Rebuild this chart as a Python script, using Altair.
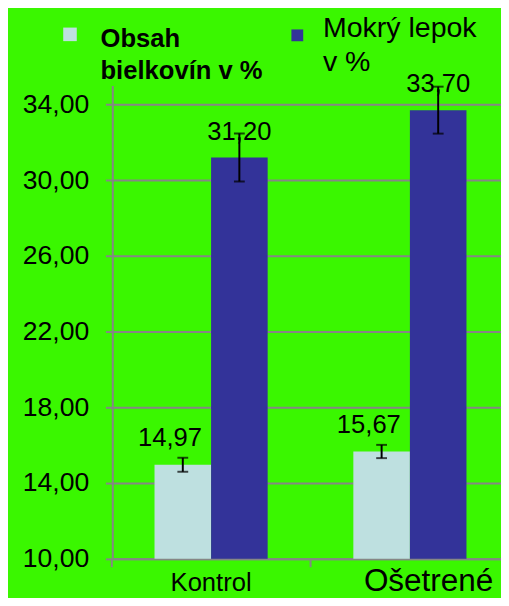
import altair as alt
import pandas as pd

categories = ["Kontrol", "Ošetrené"]
series = ["Obsah bielkovín v %", "Mokrý lepok v %"]
protein = [14.97, 15.67]
protein_err = [0.37, 0.35]
gluten = [31.20, 33.70]
gluten_err = [1.27, 1.24]
legend_text = ["Obsah\nbielkovín v %", "Mokrý lepok\nv %"]
y_ticks = [10, 14, 18, 22, 26, 30, 34]

FONT = "Liberation Sans"
GREY = "#868686"
BG = "#3AF700"
colors = ["#BEE0E0", "#333399"]

rows = []
for i, c in enumerate(categories):
    rows.append(dict(cat=c, ser=series[0], val=protein[i], err=protein_err[i]))
    rows.append(dict(cat=c, ser=series[1], val=gluten[i], err=gluten_err[i]))
df = pd.DataFrame(rows)
df["lo"] = df["val"] - df["err"]
df["hi"] = df["val"] + df["err"]
legend_df = pd.DataFrame({"ser": series, "text": legend_text})

color_scale = alt.Scale(domain=series, range=colors)
y_scale = alt.Scale(domain=[10, 35], nice=False, zero=False)

x_enc = alt.X(
    "cat:N",
    sort=categories,
    scale=alt.Scale(paddingInner=0.431, paddingOuter=0.193, align=0.55),
    axis=alt.Axis(
        title=None,
        labelAngle=0,
        grid=False,
        domainColor=GREY,
        domainWidth=2,
        tickColor=GREY,
        tickWidth=2,
        tickSize=8,
        bandPosition=-0.378,
        labelFont=FONT,
        labelColor="black",
        labelBaseline="alphabetic",
        labelPadding=24,
        labelFontSize={"condition": {"test": "datum.value == 'Ošetrené'", "value": 32}, "value": 26},
        labelOffset={"condition": {"test": "datum.value == 'Ošetrené'", "value": 19}, "value": 0},
    ),
)
xo_enc = alt.XOffset("ser:N", sort=series, scale=alt.Scale(paddingInner=0, paddingOuter=0))

y_axis = alt.Axis(
    title=None,
    values=y_ticks,
    labelExpr="replace(format(datum.value, '.2f'), '.', ',')",
    labelFont=FONT,
    labelFontSize=27,
    labelColor="black",
    labelPadding=17,
    tickSize=7,
    tickColor=GREY,
    tickWidth=2,
    domainColor=GREY,
    domainWidth=2,
    grid=True,
    gridColor=GREY,
    gridWidth=2,
)

base = alt.Chart(df).transform_calculate(
    label="replace(format(datum.val, '.2f'), '.', ',')"
)

bars = base.mark_bar().encode(
    x=x_enc,
    xOffset=xo_enc,
    y=alt.Y("val:Q", scale=y_scale, axis=y_axis),
    y2=alt.datum(10),
    color=alt.Color("ser:N", scale=color_scale, legend=None),
)

labels_light = base.transform_filter(alt.datum.ser == series[0]).mark_text(
    font=FONT, fontSize=26, color="black", baseline="alphabetic", dx=-13, dy=-19
).encode(x=x_enc, xOffset=xo_enc, y=alt.Y("val:Q", scale=y_scale), text="label:N")

labels_dark = base.transform_filter(alt.datum.ser == series[1]).mark_text(
    font=FONT, fontSize=26, color="black", baseline="alphabetic", dy=-18
).encode(x=x_enc, xOffset=xo_enc, y=alt.Y("val:Q", scale=y_scale), text="label:N")

err_rule = base.mark_rule(color="black", strokeWidth=2).encode(
    x=x_enc, xOffset=xo_enc, y=alt.Y("lo:Q", scale=y_scale), y2="hi:Q"
)
cap_lo = base.mark_tick(color="black", thickness=2, size=11, orient="horizontal").encode(
    x=x_enc, xOffset=xo_enc, y=alt.Y("lo:Q", scale=y_scale)
)
cap_hi = base.mark_tick(color="black", thickness=2, size=11, orient="horizontal").encode(
    x=x_enc, xOffset=xo_enc, y=alt.Y("hi:Q", scale=y_scale)
)

leg = alt.Chart(legend_df)
sq1 = leg.transform_filter(alt.datum.ser == series[0]).mark_square(size=190, opacity=1).encode(
    x=alt.value(-43), y=alt.value(-52), color=alt.Color("ser:N", scale=color_scale, legend=None)
)
sq2 = leg.transform_filter(alt.datum.ser == series[1]).mark_square(size=144, opacity=1).encode(
    x=alt.value(188), y=alt.value(-51), color=alt.Color("ser:N", scale=color_scale, legend=None)
)
tx1 = leg.transform_filter(alt.datum.ser == series[0]).mark_text(
    font=FONT, fontSize=26, fontWeight="bold", align="left", baseline="alphabetic",
    lineBreak="\n", lineHeight=32, color="black"
).encode(x=alt.value(-12), y=alt.value(-39), text="text:N")
tx2 = leg.transform_filter(alt.datum.ser == series[1]).mark_text(
    font=FONT, fontSize=29, align="left", baseline="alphabetic",
    lineBreak="\n", lineHeight=34, color="black"
).encode(x=alt.value(214), y=alt.value(-49), text="text:N")

chart = alt.layer(
    bars, labels_light, labels_dark, err_rule, cap_lo, cap_hi, sq1, sq2, tx1, tx2
).properties(
    width=395,
    height=481,
    background=BG,
    padding={"left": 106, "top": 74, "right": 0, "bottom": 35},
    autosize=alt.AutoSizeParams(type="none"),
).configure_view(stroke=None)

chart.save("out.html", embed_options={"renderer": "svg", "actions": False})
